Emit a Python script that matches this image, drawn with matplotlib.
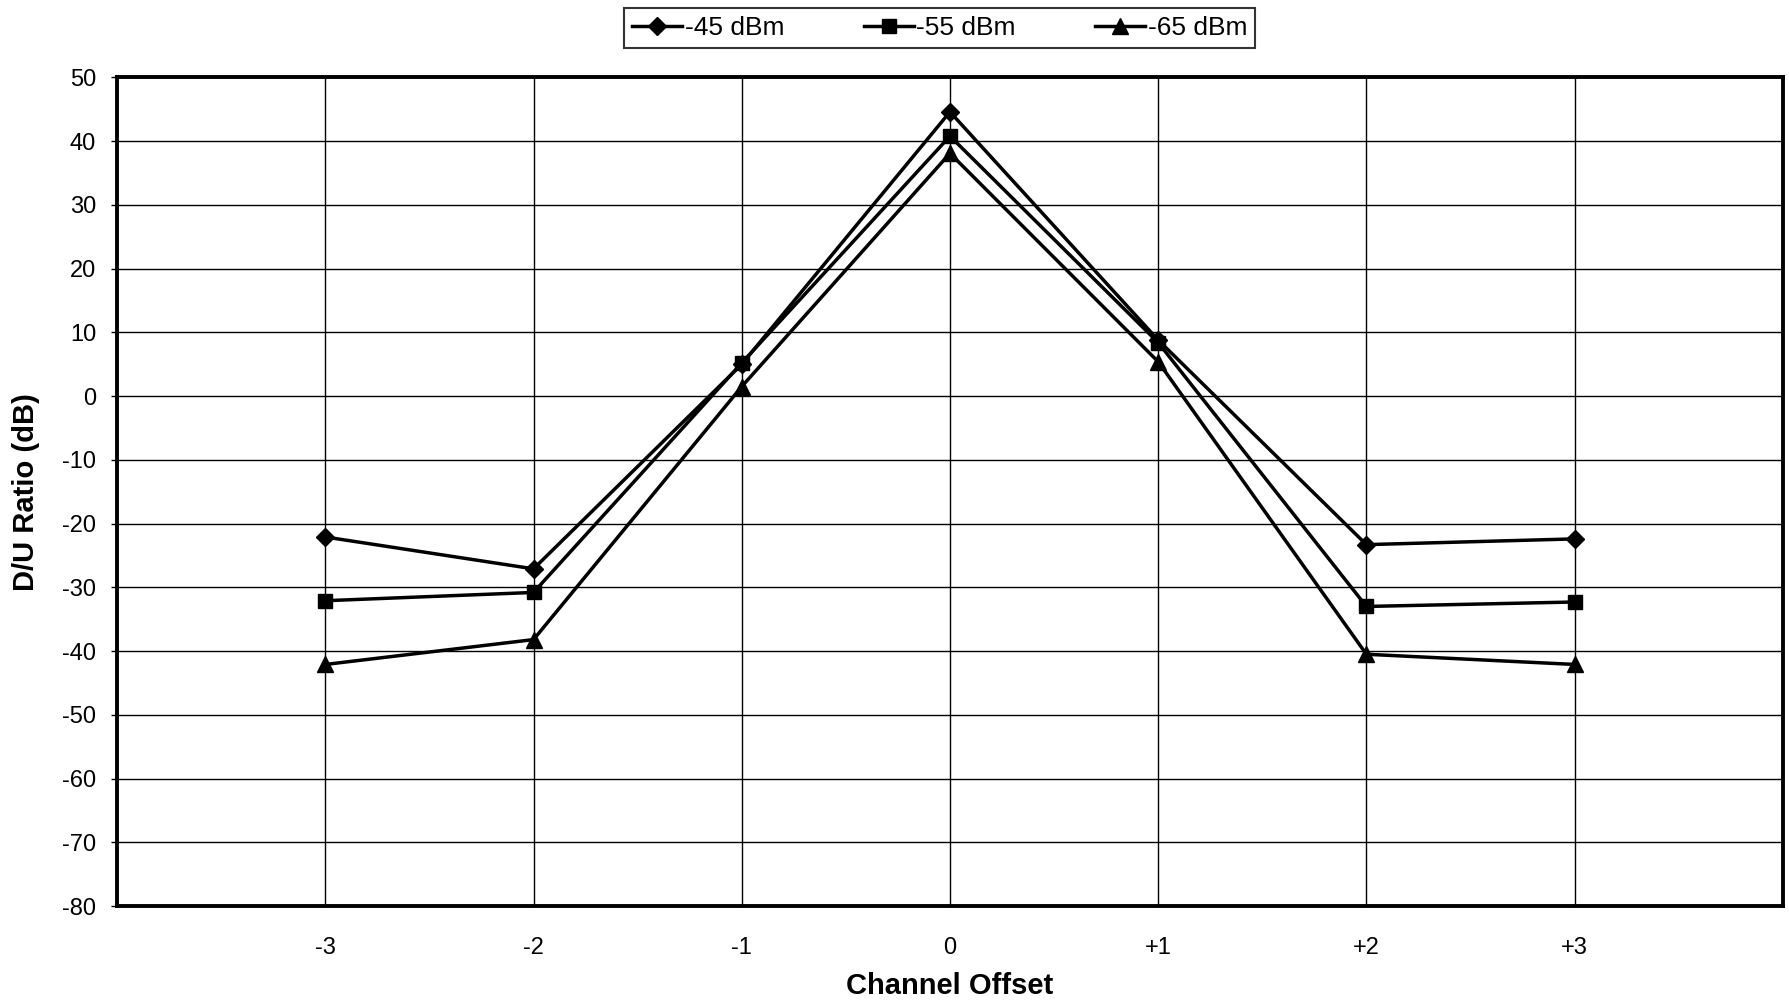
import matplotlib
matplotlib.use("Agg")
import matplotlib.pyplot as plt

# channel offsets and D/U ratio (dB) for each signal level
offsets = [-3, -2, -1, 0, 1, 2, 3]
offset_labels = ["-3", "-2", "-1", "0", "+1", "+2", "+3"]
du_45 = [-22.1, -27.1, 5.0, 44.6, 8.8, -23.3, -22.4]
du_55 = [-32.1, -30.8, 5.2, 40.8, 8.4, -33.0, -32.3]
du_65 = [-42.1, -38.2, 1.5, 38.1, 5.4, -40.5, -42.1]
y_ticks = list(range(-80, 51, 10))

plt.rcParams['font.family'] = ['Liberation Sans', 'DejaVu Sans']
plt.rcParams['axes.unicode_minus'] = False


def grafico():
    fig = plt.figure(figsize=(17.9, 10.06), dpi=100)
    ax = fig.add_axes([0.0654, 0.0994, 0.9306, 0.8236])

    ax.plot(offsets, du_45, color='black', linewidth=2.5, marker='D', markersize=9, label="-45 dBm", zorder=3)
    ax.plot(offsets, du_55, color='black', linewidth=2.5, marker='s', markersize=10.5, label="-55 dBm", zorder=3)
    ax.plot(offsets, du_65, color='black', linewidth=2.5, marker='^', markersize=11, label="-65 dBm", zorder=3)

    ax.set_xlim(-4, 4)
    ax.set_ylim(-80, 50)
    ax.set_xticks(offsets)
    ax.set_xticklabels(offset_labels)
    ax.set_yticks(y_ticks)
    ax.grid(True, color='black', linewidth=1.0)
    ax.set_axisbelow(True)

    ax.tick_params(axis='x', length=0, pad=22, labelsize=17)
    ax.tick_params(axis='y', length=4, width=1, pad=11, labelsize=17)

    for s in ax.spines.values():
        s.set_linewidth(2.8)

    ax.set_xlabel("Channel Offset", fontsize=21, fontweight='bold')
    ax.set_ylabel("D/U Ratio (dB)", fontsize=21, fontweight='bold')
    ax.xaxis.set_label_coords(0.5, -0.080)
    ax.yaxis.set_label_coords(-0.046, 0.5)

    leg = fig.legend(loc='center', bbox_to_anchor=(0.525, 0.972), ncol=3, fontsize=19,
                     frameon=True, fancybox=False, edgecolor='black', handlelength=1.9,
                     handletextpad=0.1, columnspacing=3.0, borderpad=0.3)
    leg.get_frame().set_linewidth(1.5)

    fig.savefig("out.png", dpi=100, facecolor='white')


def main():
    grafico()


if __name__ == "__main__":
    main()
